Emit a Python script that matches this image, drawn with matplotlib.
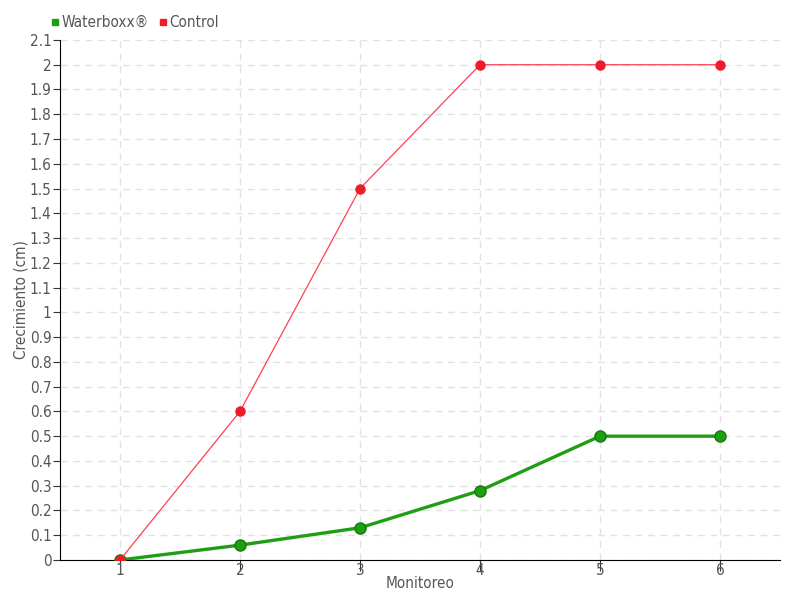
import matplotlib
matplotlib.use("Agg")
import matplotlib.pyplot as plt
from matplotlib.lines import Line2D

monitoreo = [1, 2, 3, 4, 5, 6]
waterboxx = [0, 0.06, 0.13, 0.28, 0.5, 0.5]
control = [0, 0.6, 1.5, 2.0, 2.0, 2.0]
yticks = [round(i * 0.1, 1) for i in range(22)]
ytick_labels = ["0" if v == 0 else ("%g" % v) for v in yticks]

plt.rcParams["font.family"] = ["DejaVu Sans"]
plt.rcParams["font.stretch"] = "condensed"

fig = plt.figure(figsize=(8, 6), dpi=100)
ax = fig.add_axes([0.075, 0.0667, 0.9, 0.8667])

green = "#1f9e14"
red = "#ee1c2a"
ax.plot(monitoreo, waterboxx, color=green, lw=2.4, marker="o", ms=8,
        mfc="#1f9e14", mec="#147a0c", mew=1, zorder=3, label="Waterboxx®")
ax.plot(monitoreo, control, color="#ff4050", lw=0.9, marker="o", ms=6.5,
        mfc=red, mec=red, zorder=4, label="Control")

ax.set_xlim(0.5, 6.5)
ax.set_ylim(0, 2.1)
ax.set_xticks(monitoreo)
ax.set_xticklabels([str(m) for m in monitoreo])
ax.set_yticks(yticks)
ax.set_yticklabels(ytick_labels)
ax.grid(True, color="#e2e2e2", linestyle=(0, (5, 4)), lw=1)
ax.set_axisbelow(True)
for s in ["top", "right"]:
    ax.spines[s].set_visible(False)
ax.spines["left"].set_color("black")
ax.spines["bottom"].set_color("black")
ax.tick_params(axis="y", direction="out", length=5, labelsize=11, colors="#555555", pad=1)
ax.tick_params(axis="x", direction="out", length=8, labelsize=11, colors="#555555", pad=-6)
ax.tick_params(axis="both", color="#333333")
ax.set_xlabel("Monitoreo", fontsize=11, color="#555555", labelpad=-1)
ax.set_ylabel("Crecimiento (cm)", fontsize=11, color="#555555", labelpad=1)

handles = [Line2D([], [], ls="none", marker="s", ms=5, color=green),
           Line2D([], [], ls="none", marker="s", ms=5, color=red)]
leg = fig.legend(handles, ["Waterboxx®", "Control"], loc="upper left",
                 bbox_to_anchor=(0.055, 0.985), ncol=2, frameon=False,
                 fontsize=11, handlelength=0.6, handletextpad=0.15,
                 columnspacing=0.6, borderaxespad=0)
for t in leg.get_texts():
    t.set_color("#555555")

fig.savefig("out.png", dpi=100)
